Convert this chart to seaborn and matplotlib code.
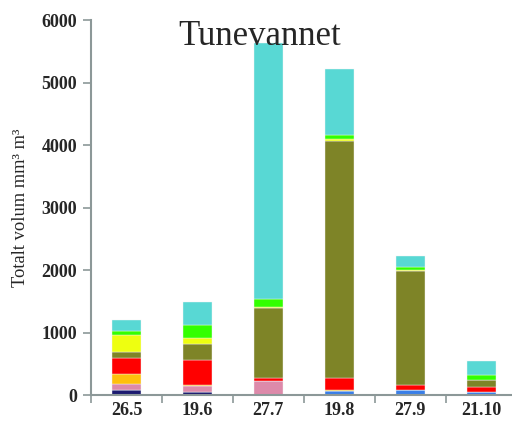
import numpy as np
import pandas as pd
import matplotlib
matplotlib.use("Agg")
import matplotlib.pyplot as plt
import seaborn as sns

# Sampling dates
dates = ["26.5", "19.6", "27.7", "19.8", "27.9", "21.10"]

# Biovolume per algal group (mm3 m-3), stacked bottom to top
group_names = [
    "Cyanophyceae", "Chlorophyceae", "Chrysophyceae", "Bacillariophyceae",
    "Cryptophyceae", "Dinophyceae", "Euglenophyceae", "Xanthophyceae", "My-alger",
]
cyanophyceae      = [80,   55,   0,    0,    0,    0]
chlorophyceae     = [0,    0,    0,    70,   80,   48]
chrysophyceae     = [96,   85,   230,  0,    0,    0]
bacillariophyceae = [165,  20,   0,    15,   5,    0]
cryptophyceae     = [256,  400,  40,   190,  75,   85]
dinophyceae       = [90,   250,  1130, 3790, 1824, 102]
euglenophyceae    = [272,  105,  15,   32,   25,   10]
xanthophyceae     = [64,   203,  115,  59,   40,   74]
my_alger          = [176,  363,  4110, 1056, 181,  220]

group_colors = [
    "#1c1a70", "#3a7fe8", "#dd8aaa", "#ffc00c", "#ff0000",
    "#7e8427", "#eeff10", "#33ff00", "#58d8d4",
]

series = [cyanophyceae, chlorophyceae, chrysophyceae, bacillariophyceae,
          cryptophyceae, dinophyceae, euglenophyceae, xanthophyceae, my_alger]

sns.set_theme(style="white")
plt.rcParams["font.family"] = ["Liberation Serif", "DejaVu Serif"]

fig = plt.figure(figsize=(5.12, 4.28), dpi=100)
ax = fig.add_axes([0.178, 0.077, 0.831, 0.876])

bottom = np.zeros(len(dates))
for name, vals, col in zip(group_names, series, group_colors):
    df = pd.DataFrame({"dato": dates, "volum": vals})
    sns.barplot(data=df, x="dato", y="volum", order=dates, color=col,
                width=0.41, errorbar=None, bottom=bottom.copy(),
                edgecolor="#f2f2f2", linewidth=0.3, saturation=1, ax=ax)
    bottom += np.array(vals, dtype=float)

ax.set_xlim(-0.5, len(dates) - 0.5)
ax.set_ylim(0, 6000)
ax.set_yticks(np.arange(0, 6001, 1000))

# category boundaries get tick marks, centres carry the labels
ax.set_xticks(np.arange(-0.5, len(dates), 1.0))
ax.set_xticklabels([])
ax.set_xticks(np.arange(len(dates)), minor=True)
ax.set_xticklabels(dates, minor=True)
ax.tick_params(axis="x", which="minor", length=0, pad=5)
ax.tick_params(axis="x", which="major", length=6, width=1.2, color="#8c9898", direction="out")
ax.tick_params(axis="y", length=6, width=1.2, color="#8c9898", direction="out", pad=4)
ax.tick_params(axis="both", which="both", labelsize=13)
for lab in ax.get_xticklabels(minor=True) + ax.get_yticklabels():
    lab.set_fontweight("bold")
ax.xaxis.set_tick_params(which="both", bottom=True)
ax.yaxis.set_tick_params(left=True)

for side in ["top", "right"]:
    ax.spines[side].set_visible(False)
for side in ["left", "bottom"]:
    ax.spines[side].set_color("#8c9898")
    ax.spines[side].set_linewidth(1.5)

ax.set_xlabel("")
ax.set_ylabel("Totalt volum mm³ m³", fontsize=13.3, labelpad=9)

ax.text(1.87, 5740, "Tunevannet", fontsize=25, ha="center", va="center", zorder=10)

fig.savefig("out.png", dpi=100)
